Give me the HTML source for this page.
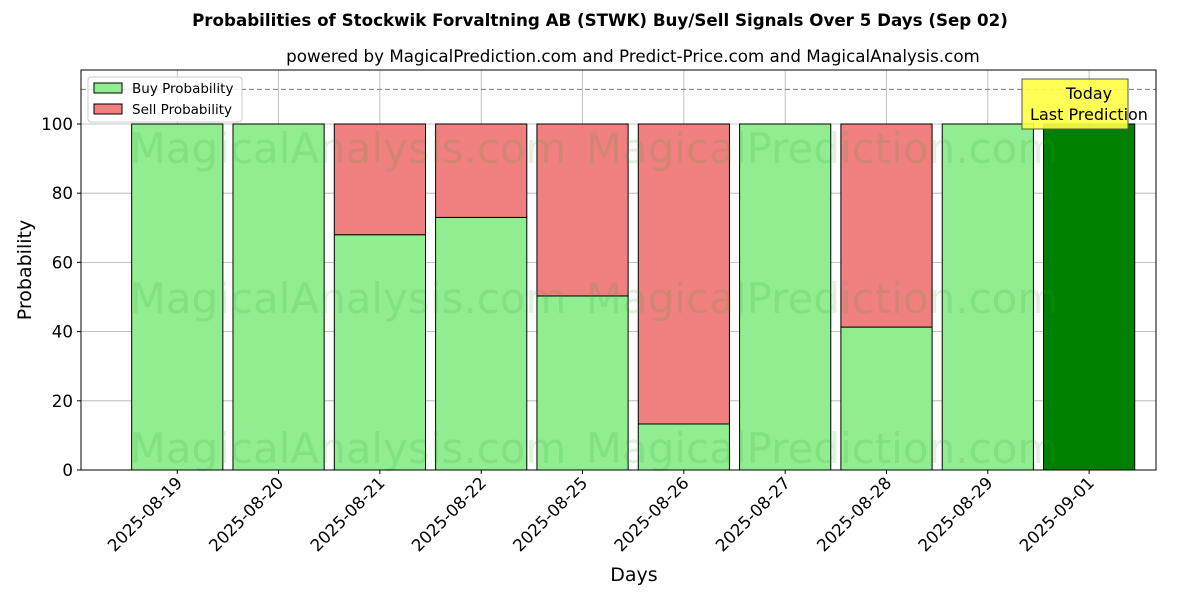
<!DOCTYPE html>
<html><head><meta charset="utf-8"><style>body{margin:0;background:#fff}svg{display:block}</style></head>
<body>
<svg id="chart" width="1200" height="600" xmlns="http://www.w3.org/2000/svg" font-family="'DejaVu Sans','Liberation Sans',sans-serif">
<text x="600" y="26" text-anchor="middle" font-size="16.7" font-weight="bold">Probabilities of Stockwik Forvaltning AB (STWK) Buy/Sell Signals Over 5 Days (Sep 02)</text>
<text x="633" y="62" text-anchor="middle" font-size="16.7">powered by MagicalPrediction.com and Predict-Price.com and MagicalAnalysis.com</text>
<g id="grid"></g>
<g id="bars"></g>
<g id="wm" font-size="42" fill="#2ca02c" fill-opacity="0.15" text-anchor="middle">
<text x="348" y="163">MagicalAnalysis.com</text>
<text x="822" y="163">MagicalPrediction.com</text>
<text x="348" y="313">MagicalAnalysis.com</text>
<text x="822" y="313">MagicalPrediction.com</text>
<text x="348" y="463">MagicalAnalysis.com</text>
<text x="822" y="463">MagicalPrediction.com</text>
</g>
<line x1="81" x2="1156" y1="89.4" y2="89.4" stroke="#777" stroke-dasharray="5,3"/>
<rect x="81" y="70" width="1075" height="400" fill="none" stroke="#000"/>
<g id="axes"></g>
<text x="634" y="581" text-anchor="middle" font-size="19">Days</text>
<text transform="translate(31,270) rotate(-90)" text-anchor="middle" font-size="19">Probability</text>
<g>
<rect x="88" y="77" width="154" height="45" rx="3" fill="#fff" fill-opacity="0.8" stroke="#ccc"/>
<rect x="94" y="83" width="28" height="10" fill="#90ee90" stroke="#000"/>
<text x="132" y="93" font-size="13.5">Buy Probability</text>
<rect x="94" y="104" width="28" height="10" fill="#f08080" stroke="#000"/>
<text x="132" y="114" font-size="13.5">Sell Probability</text>
</g>
<g>
<rect x="1022" y="79" width="106" height="50" fill="#ffff44" fill-opacity="0.9" stroke="#555"/>
<text x="1089" y="99" text-anchor="middle" font-size="16">Today</text>
<text x="1089" y="120" text-anchor="middle" font-size="16">Last Prediction</text>
</g>
</svg>
<script>
const categories=["2025-08-19","2025-08-20","2025-08-21","2025-08-22","2025-08-25","2025-08-26","2025-08-27","2025-08-28","2025-08-29","2025-09-01"];
const buyValues=[100,100,68,73,50.3,13.3,100,41.3,100,100];
const sellValues=[0,0,32,27,49.7,86.7,0,58.7,0,0];
const yTicks=[0,20,40,60,80,100];
const NS="http://www.w3.org/2000/svg";
const L=81,R=1156,T=70,B=470,YMAX=115.6,X0=-0.95,X1=9.66;
const xs=i=>L+(i-X0)/(X1-X0)*(R-L);
const ys=v=>B-v/YMAX*(B-T);
const bw=0.9*(R-L)/(X1-X0);
function mk(tag,attrs,parent){const e=document.createElementNS(NS,tag);for(const k in attrs)e.setAttribute(k,attrs[k]);parent.appendChild(e);return e;}
const grid=document.getElementById('grid'),bars=document.getElementById('bars'),axes=document.getElementById('axes');
yTicks.forEach(v=>{
 const g=mk('line',{x1:L,x2:R,y1:ys(v),y2:ys(v),stroke:'#b0b0b0','stroke-width':0.8},grid);
 
 
 mk('line',{x1:L-4,x2:L,y1:ys(v),y2:ys(v),stroke:'#000'},axes);
 const t=mk('text',{x:L-8,y:ys(v)+6,'text-anchor':'end','font-size':16.7},axes);
 t.textContent=v;
 
 
});
categories.forEach((c,i)=>{
 const x=xs(i);
 const g=mk('line',{x1:x,x2:x,y1:T,y2:B,stroke:'#b0b0b0','stroke-width':0.8},grid);
 
 
 const last=i===categories.length-1;
 const b=mk('rect',{x:x-bw/2,y:ys(buyValues[i]),width:bw,height:ys(0)-ys(buyValues[i]),fill:last?'#008000':'#90ee90',stroke:'#000'},bars);
 
 
 if(sellValues[i]>0){
  const s=mk('rect',{x:x-bw/2,y:ys(buyValues[i]+sellValues[i]),width:bw,height:ys(buyValues[i])-ys(buyValues[i]+sellValues[i]),fill:'#f08080',stroke:'#000'},bars);
  
  
 }
 mk('line',{x1:x,x2:x,y1:B,y2:B+4,stroke:'#000'},axes);
 const ax=x+6,ay=B+14;
 const t=mk('text',{x:ax,y:ay,'text-anchor':'end','font-size':16.7,transform:`rotate(-45 ${ax} ${ay})`},axes);
 t.textContent=c;
 
 
});
</script>
</body></html>
